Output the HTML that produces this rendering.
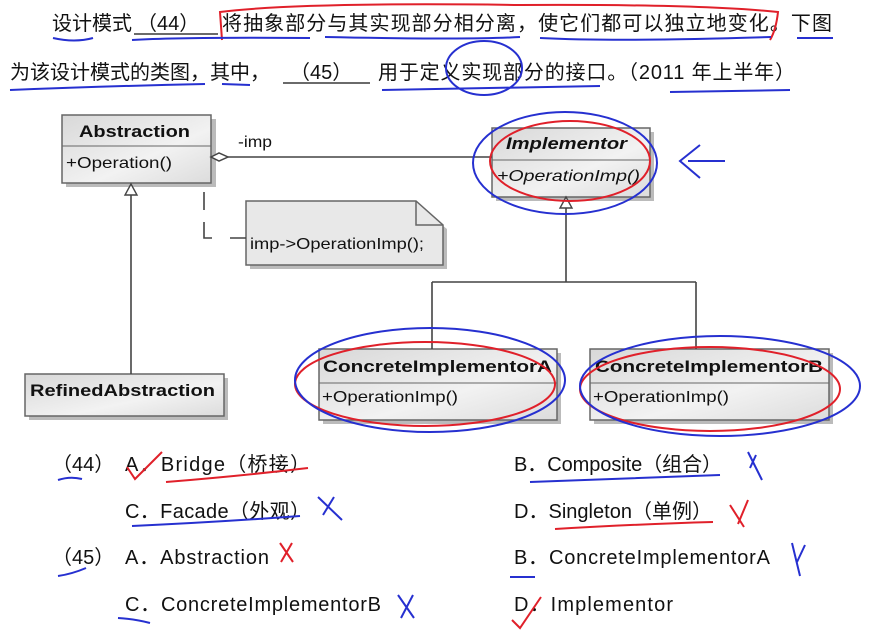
<!DOCTYPE html>
<html><head><meta charset="utf-8"><style>
body{margin:0;background:#fff;}
svg{display:block;font-family:"Liberation Sans","Noto Sans CJK SC",sans-serif;}
.t{font-size:20px;fill:#111;}
.b{font-weight:bold;font-size:17px;fill:#111;}
.m{font-size:16px;fill:#111;}
.box{fill:url(#g);stroke:#666;stroke-width:1.5;}
.sh{fill:#bbb;}
.bl{fill:none;stroke:#2630d0;stroke-width:2;}
.rd{fill:none;stroke:#e0202a;stroke-width:2;}
.ln{stroke:#444;stroke-width:1.6;fill:none;}
</style></head><body>
<svg width="875" height="634" viewBox="0 0 875 634">
<defs><linearGradient id="g" x1="0" y1="0" x2="1" y2="1"><stop offset="0" stop-color="#d8d8d8"/><stop offset="0.6" stop-color="#f2f2f2"/><stop offset="1" stop-color="#dcdcdc"/></linearGradient></defs>

<!-- top text -->
<text class="t" x="52" y="30" textLength="80">设计模式</text>
<text class="t" x="137" y="30">（44）</text>
<line x1="134" y1="34" x2="218" y2="34" stroke="#111" stroke-width="1.3"/>
<text class="t" x="222" y="30" textLength="610">将抽象部分与其实现部分相分离，使它们都可以独立地变化。下图</text>
<text class="t" x="10" y="79" textLength="260">为该设计模式的类图，其中，</text>
<text class="t" x="290" y="79">（45）</text>
<line x1="283" y1="83" x2="370" y2="83" stroke="#111" stroke-width="1.3"/>
<text class="t" x="378" y="79" textLength="417">用于定义实现部分的接口。（2011 年上半年）</text>
<path class="rd" d="M222 40 L220 12 Q300 2 520 5 Q700 4 778 12 Q776 30 770 40" />
<path class="bl" d="M53 38 Q75 43 93 38 M132 40 Q180 37 310 38 M325 37 Q470 40 520 37 M540 38 Q620 42 771 37 M797 38 L833 38 M10 90 Q110 86 205 84 M222 84 L250 85 M382 90 Q470 88 600 86 M670 92 L790 90"/>
<ellipse class="bl" cx="484" cy="68" rx="38" ry="27"/>

<!-- diagram -->
<rect class="sh" x="66" y="119" width="150" height="68"/>
<rect class="box" x="62" y="115" width="149" height="68"/>
<line x1="62" y1="146" x2="211" y2="146" stroke="#666"/>
<text class="b" x="79" y="137" textLength="111" lengthAdjust="spacingAndGlyphs">Abstraction</text>
<text class="m" x="66" y="168" textLength="106" lengthAdjust="spacingAndGlyphs">+Operation()</text>

<rect class="sh" x="29" y="378" width="199" height="42"/>
<rect class="box" x="25" y="374" width="199" height="42"/>
<text class="b" x="30" y="396" textLength="185" lengthAdjust="spacingAndGlyphs">RefinedAbstraction</text>

<rect class="sh" x="496" y="132" width="158" height="69"/>
<rect class="box" x="492" y="128" width="158" height="69"/>
<line x1="492" y1="160" x2="650" y2="160" stroke="#666"/>
<text class="b" x="506" y="149" font-style="italic" textLength="121" lengthAdjust="spacingAndGlyphs">Implementor</text>
<text class="m" x="497" y="181" font-style="italic" textLength="143" lengthAdjust="spacingAndGlyphs">+OperationImp()</text>

<rect class="sh" x="323" y="353" width="238" height="71"/>
<rect class="box" x="319" y="349" width="238" height="71"/>
<line x1="319" y1="383" x2="557" y2="383" stroke="#666"/>
<text class="b" x="323" y="372" textLength="229" lengthAdjust="spacingAndGlyphs">ConcreteImplementorA</text>
<text class="m" x="322" y="402" textLength="136" lengthAdjust="spacingAndGlyphs">+OperationImp()</text>

<rect class="sh" x="594" y="353" width="239" height="71"/>
<rect class="box" x="590" y="349" width="239" height="71"/>
<line x1="590" y1="383" x2="829" y2="383" stroke="#666"/>
<text class="b" x="595" y="372" textLength="228" lengthAdjust="spacingAndGlyphs">ConcreteImplementorB</text>
<text class="m" x="593" y="402" textLength="136" lengthAdjust="spacingAndGlyphs">+OperationImp()</text>

<path d="M250 205 H417 L447 229 V269 H250 Z" fill="#bbb"/>
<path d="M246 201 H416 L443 225 V265 H246 Z" fill="#e8e8e8" stroke="#666" stroke-width="1.5"/>
<path d="M416 201 V225 H443" fill="none" stroke="#666" stroke-width="1.5"/>
<text class="m" x="250" y="249" textLength="174" lengthAdjust="spacingAndGlyphs">imp-&gt;OperationImp();</text>

<path class="ln" d="M228 157 H492"/>
<path d="M211 157 L219 153 L228 157 L219 161 Z" fill="#fff" stroke="#444" stroke-width="1.5"/>
<text class="m" x="238" y="147" textLength="34" lengthAdjust="spacingAndGlyphs">-imp</text>
<path class="ln" d="M131 195 V374"/>
<path d="M131 184 L125 195 H137 Z" fill="#fff" stroke="#444" stroke-width="1.4"/>
<path class="ln" d="M566 208 V282 M432 282 H696 M432 282 V349 M696 282 V349"/>
<path d="M566 197 L560 208 H572 Z" fill="#fff" stroke="#444" stroke-width="1.4"/>
<path d="M204 192 V210 M204 222 V238 H212 M230 238 H246" stroke="#444" stroke-width="1.6" fill="none"/>

<!-- annotations on diagram -->
<ellipse class="rd" cx="570" cy="161" rx="80" ry="40"/>
<ellipse class="bl" cx="565" cy="163" rx="92" ry="51"/>
<path class="bl" d="M725 161 H688 M700 145 L680 161 L700 178"/>
<ellipse class="rd" cx="425" cy="384" rx="130" ry="42"/>
<ellipse class="bl" cx="430" cy="380" rx="135" ry="52"/>
<ellipse class="rd" cx="710" cy="389" rx="130" ry="42"/>
<ellipse class="bl" cx="720" cy="386" rx="140" ry="50"/>

<!-- options -->
<text class="t" x="52" y="471">（44）</text>
<text class="t" x="125" y="471" textLength="185">A．Bridge（桥接）</text>
<text class="t" x="514" y="471" textLength="208">B．Composite（组合）</text>
<text class="t" x="125" y="518" textLength="185">C．Facade（外观）</text>
<text class="t" x="514" y="518" textLength="198">D．Singleton（单例）</text>
<text class="t" x="52" y="564">（45）</text>
<text class="t" x="125" y="564" textLength="144">A．Abstraction</text>
<text class="t" x="514" y="564" textLength="256">B．ConcreteImplementorA</text>
<text class="t" x="125" y="611" textLength="256">C．ConcreteImplementorB</text>
<text class="t" x="514" y="611" textLength="159">D．Implementor</text>

<!-- option annotations -->
<path class="rd" d="M127 467 L135 479 L162 452 M166 482 Q240 476 308 468 M555 529 Q640 524 713 522 M730 505 L744 527 M748 500 L738 524 M280 543 L293 562 M292 543 L281 562 M512 620 L520 628 L541 597"/>
<path class="bl" d="M58 480 Q70 476 82 479 M132 526 Q220 522 300 516 M318 497 L342 520 M334 497 L323 515 M530 482 Q620 479 720 475 M748 452 L762 480 M756 455 L750 468 M58 576 Q72 574 86 568 M510 577 L535 577 M792 543 L800 576 M805 545 L797 562 M118 618 Q135 619 150 623 M398 595 L414 618 M413 595 L401 618"/>
</svg>
</body></html>
